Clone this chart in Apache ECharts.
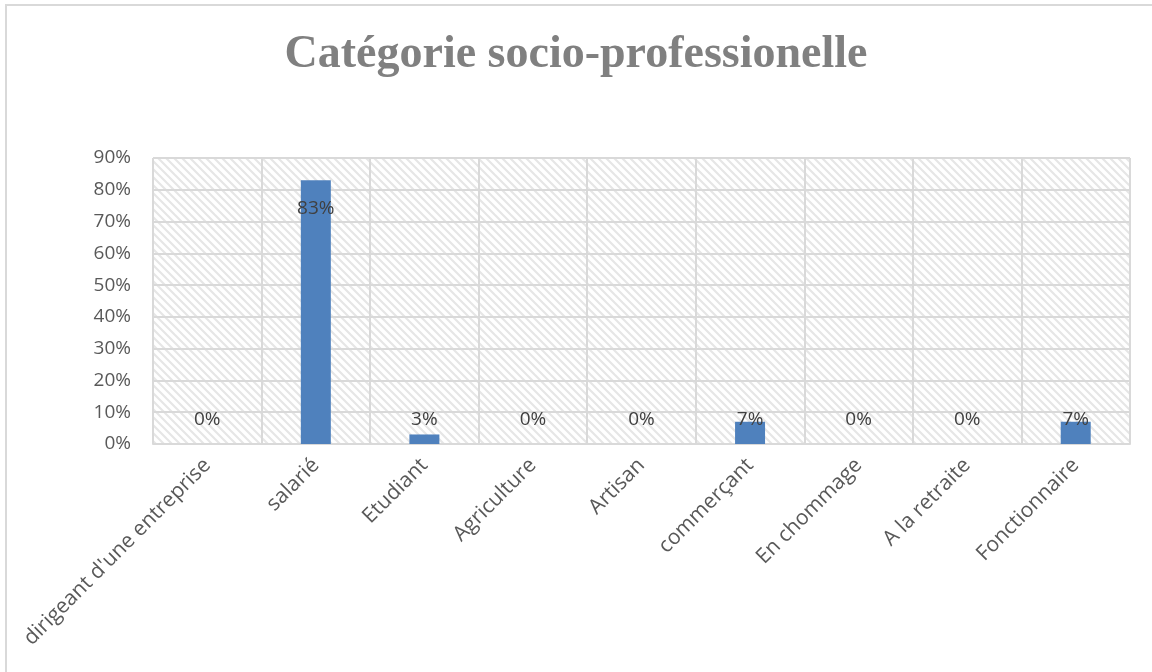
<!DOCTYPE html>
<html>
<head>
<meta charset="utf-8">
<script src="https://cdn.jsdelivr.net/npm/echarts@6/dist/echarts.min.js"></script>
<style>
  html, body { margin: 0; padding: 0; background: #fff; }
  #chart { width: 1152px; height: 672px; }
</style>
</head>
<body>
<div id="chart"></div>
<script>
// Categories and shares (fractions of respondents)
const categories = [
  "dirigeant d'une entreprise", "salarié", "Etudiant", "Agriculture",
  "Artisan", "commerçant", "En chommage", "A la retraite", "Fonctionnaire"
];
const shares = [0, 0.83, 0.03, 0, 0, 0.07, 0, 0, 0.07];
const titleText = "Catégorie socio-professionelle";

// Diagonal hatch for the plot background
function hatchPattern() {
  const c = document.createElement('canvas');
  const s = 8;
  c.width = s; c.height = s;
  const g = c.getContext('2d');
  g.fillStyle = '#ffffff';
  g.fillRect(0, 0, s, s);
  g.strokeStyle = '#e6e6e6';
  g.lineWidth = 2.2;
  g.beginPath();
  g.moveTo(-2, -2); g.lineTo(s + 2, s + 2);
  g.moveTo(-2 - s, -2); g.lineTo(2, s + 2);
  g.moveTo(s - 2, -2); g.lineTo(2 * s + 2, s + 2);
  g.stroke();
  return c;
}

function labelFor(v) {
  if (v >= 0.5) return { position: 'insideTop', offset: [0, 14] };
  if (v === 0) return { position: 'top', offset: [0, -10] };
  if (v < 0.05) return { position: 'top', offset: [0, 0] };
  return { position: 'insideTop', offset: [0, -17] };
}

const chart = echarts.init(document.getElementById('chart'), null, { renderer: 'canvas' });
chart.setOption({
  backgroundColor: '#ffffff',
  animation: false,
  title: {
    text: titleText,
    left: 'center',
    top: 27,
    textStyle: {
      fontFamily: 'Liberation Serif',
      fontWeight: 'bold',
      fontSize: 46,
      color: '#808080'
    }
  },
  graphic: [{
    type: 'rect',
    shape: { x: 6, y: 5, width: 1160, height: 700 },
    style: { fill: 'none', stroke: '#d9d9d9', lineWidth: 2 },
    silent: true
  }],
  grid: {
    left: 153, right: 22, top: 158, bottom: 228,
    show: true,
    borderWidth: 0,
    backgroundColor: { image: hatchPattern(), repeat: 'repeat' }
  },
  xAxis: {
    type: 'category',
    data: categories,
    axisLine: { show: true, lineStyle: { color: '#d9d9d9', width: 2 } },
    axisTick: { show: false },
    splitLine: { show: true, interval: 0, lineStyle: { color: '#d9d9d9', width: 2 } },
    axisLabel: {
      interval: 0,
      rotate: 45,
      margin: 18,
      fontFamily: 'Open Sans',
      fontSize: 21,
      color: '#595959'
    }
  },
  yAxis: {
    type: 'value',
    min: 0, max: 0.9, interval: 0.1,
    axisLine: { show: false },
    axisTick: { show: false },
    splitLine: { lineStyle: { color: '#d9d9d9', width: 2 } },
    axisLabel: {
      margin: 22,
      fontFamily: 'Open Sans',
      fontSize: 19,
      color: '#595959',
      formatter: v => Math.round(v * 100) + '%'
    }
  },
  series: [{
    type: 'bar',
    barWidth: 30,
    itemStyle: { color: '#4f81bd' },
    data: shares.map(v => ({ value: v, label: labelFor(v) })),
    label: {
      show: true,
      fontFamily: 'Open Sans',
      fontSize: 19,
      color: '#404040',
      formatter: p => Math.round(p.value * 100) + '%'
    }
  }]
});
</script>
</body>
</html>
